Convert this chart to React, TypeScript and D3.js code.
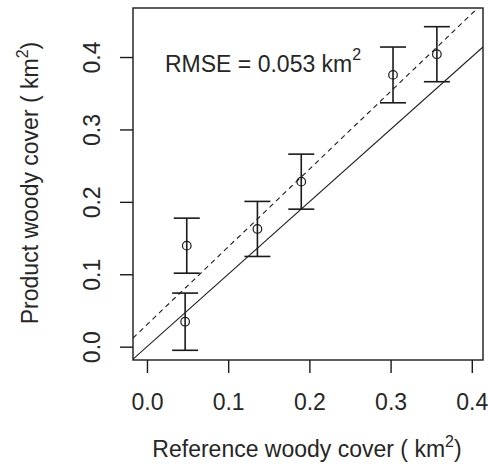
import React, { useEffect, useRef } from "react";
import * as d3 from "d3";

// reference (x) vs product (y) woody cover, km^2
const refCover = [0.049, 0.047, 0.136, 0.190, 0.303, 0.357];
const prodCover = [0.1395, 0.0345, 0.1626, 0.2279, 0.3753, 0.4039];
const errHalf = [0.038, 0.0395, 0.038, 0.038, 0.0385, 0.038];
const xTicks = [0, 0.1, 0.2, 0.3, 0.4];
const yTicks = [0, 0.1, 0.2, 0.3, 0.4];
const rmseLabel = "RMSE = 0.053 km";

const W = 488;
const H = 473;

const App = () => {
  const ref = useRef<SVGSVGElement>(null);

  useEffect(() => {
    const svg = d3.select(ref.current);
    svg.selectAll("*").remove();

    const left = 133, right = 483, top = 8, bottom = 360;
    const font = "'Liberation Sans', Arial, sans-serif";
    const ink = "#1a1a1a";
    const txt = "#262626";

    const x = d3.scaleLinear().domain([-0.0172, 0.4138]).range([left, right]);
    const y = d3.scaleLinear().domain([-0.0184, 0.4677]).range([bottom, top]);

    const data = refCover.map((v, i) => ({ x: v, y: prodCover[i], e: errHalf[i] }));

    // least squares fit for the dashed line
    const mx = d3.mean(data, d => d.x)!;
    const my = d3.mean(data, d => d.y)!;
    const slope = d3.sum(data, d => (d.x - mx) * (d.y - my)) / d3.sum(data, d => (d.x - mx) ** 2);
    const icpt = my - slope * mx;

    svg.append("defs").append("clipPath").attr("id", "plotclip")
      .append("rect")
      .attr("x", left).attr("y", top)
      .attr("width", right - left).attr("height", bottom - top);

    const g = svg.append("g").attr("clip-path", "url(#plotclip)");
    const [x0, x1] = x.domain();

    // 1:1 line
    g.append("line")
      .attr("x1", x(x0)).attr("y1", y(x0))
      .attr("x2", x(x1)).attr("y2", y(x1))
      .attr("stroke", ink).attr("stroke-width", 1.1);

    // fit line
    g.append("line")
      .attr("x1", x(x0)).attr("y1", y(icpt + slope * x0))
      .attr("x2", x(x1)).attr("y2", y(icpt + slope * x1))
      .attr("stroke", ink).attr("stroke-width", 1.1)
      .attr("stroke-dasharray", "5,4");

    // error bars
    const cap = 13;
    const bars = svg.append("g").attr("stroke", ink).attr("stroke-width", 1.6).attr("fill", "none");
    data.forEach(d => {
      const cx = x(d.x);
      bars.append("line").attr("x1", cx).attr("x2", cx).attr("y1", y(d.y + d.e)).attr("y2", y(d.y - d.e));
      bars.append("line").attr("x1", cx - cap).attr("x2", cx + cap).attr("y1", y(d.y + d.e)).attr("y2", y(d.y + d.e));
      bars.append("line").attr("x1", cx - cap).attr("x2", cx + cap).attr("y1", y(d.y - d.e)).attr("y2", y(d.y - d.e));
    });

    // open circles (pch 1)
    svg.append("g")
      .selectAll("circle")
      .data(data)
      .enter()
      .append("circle")
      .attr("cx", d => x(d.x))
      .attr("cy", d => y(d.y))
      .attr("r", 4.3)
      .attr("fill", "none")
      .attr("stroke", ink)
      .attr("stroke-width", 1.2);

    // box
    svg.append("rect")
      .attr("x", left).attr("y", top)
      .attr("width", right - left).attr("height", bottom - top)
      .attr("fill", "none").attr("stroke", ink).attr("stroke-width", 1.4);

    // x axis
    const xAxis = svg.append("g")
      .attr("transform", `translate(0,${bottom})`)
      .call(d3.axisBottom(x).tickValues(xTicks).tickSize(13).tickSizeOuter(0).tickPadding(21).tickFormat(d3.format(".1f")));
    xAxis.select(".domain").remove();
    xAxis.selectAll("line").attr("stroke", ink).attr("stroke-width", 1.4);
    xAxis.selectAll("text").attr("font-family", font).attr("font-size", 23).attr("fill", txt);

    // y axis, labels rotated like R las=0
    const yAxis = svg.append("g")
      .attr("transform", `translate(${left},0)`)
      .call(d3.axisLeft(y).tickValues(yTicks).tickSize(13).tickSizeOuter(0).tickFormat(d3.format(".1f")));
    yAxis.select(".domain").remove();
    yAxis.selectAll("line").attr("stroke", ink).attr("stroke-width", 1.4);
    yAxis.selectAll("text")
      .attr("font-family", font).attr("font-size", 23).attr("fill", txt)
      .attr("x", null).attr("dy", null)
      .attr("text-anchor", "middle")
      .attr("transform", "translate(-33,0) rotate(-90)");

    // axis titles
    const xt = svg.append("text")
      .attr("x", (left + right) / 2 - 1).attr("y", 457)
      .attr("text-anchor", "middle")
      .attr("font-family", font).attr("font-size", 23).attr("fill", txt);
    xt.append("tspan").text("Reference woody cover ( km");
    xt.append("tspan").attr("font-size", 16).attr("dy", -10).text("2");
    xt.append("tspan").attr("dy", 10).text(")");

    const yt = svg.append("text")
      .attr("transform", `translate(38,${(top + bottom) / 2 - 1}) rotate(-90)`)
      .attr("text-anchor", "middle")
      .attr("font-family", font).attr("font-size", 23).attr("fill", txt);
    yt.append("tspan").text("Product woody cover ( km");
    yt.append("tspan").attr("font-size", 16).attr("dy", -10).text("2");
    yt.append("tspan").attr("dy", 10).text(")");

    // RMSE annotation
    const rt = svg.append("text")
      .attr("x", 165).attr("y", 72)
      .attr("font-family", font).attr("font-size", 23).attr("fill", txt);
    rt.append("tspan").text(rmseLabel);
    rt.append("tspan").attr("font-size", 16).attr("dy", -12).text("2");
  }, []);

  return (
    <svg ref={ref} width={W} height={H}
      style={{ position: "absolute", left: 0, top: 0, background: "white" }} />
  );
};

export default App;
